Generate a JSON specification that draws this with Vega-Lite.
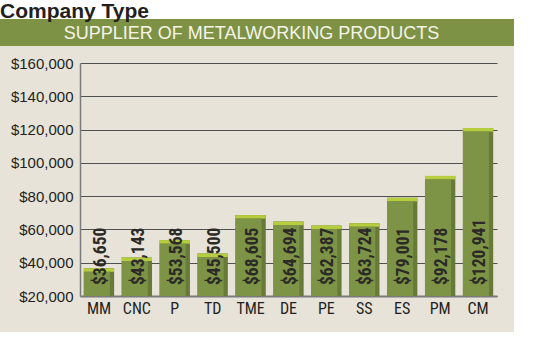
{
  "$schema": "https://vega.github.io/schema/vega-lite/v6.json",
  "width": 514,
  "height": 313,
  "autosize": {"type": "none"},
  "padding": {"left": 0, "top": 19, "right": 19, "bottom": 18},
  "background": "white",
  "config": {"view": {"stroke": null, "fill": "#e7e3d9"}},
  "title": {
    "text": "Company Type",
    "anchor": "start",
    "frame": "group",
    "baseline": "alphabetic",
    "offset": -20,
    "font": "Liberation Sans, Arial, sans-serif",
    "fontSize": 21,
    "fontWeight": "bold",
    "color": "#231f20"
  },
  "data": {
    "values": [
      {"type": "MM", "value": 36650},
      {"type": "CNC", "value": 43143},
      {"type": "P", "value": 53568},
      {"type": "TD", "value": 45500},
      {"type": "TME", "value": 68605},
      {"type": "DE", "value": 64694},
      {"type": "PE", "value": 62387},
      {"type": "SS", "value": 63724},
      {"type": "ES", "value": 79001},
      {"type": "PM", "value": 92178},
      {"type": "CM", "value": 120941}
    ]
  },
  "layer": [
    {
      "data": {"values": [{"banner": "SUPPLIER OF METALWORKING PRODUCTS"}]},
      "mark": {"type": "rect", "color": "#7e9246"},
      "encoding": {
        "y": {"datum": 170200, "type": "quantitative"},
        "y2": {"datum": 186500}
      }
    },
    {
      "data": {"values": [{"banner": "SUPPLIER OF METALWORKING PRODUCTS"}]},
      "mark": {"type": "text", "color": "#f6f4e8", "font": "Liberation Sans, Arial, sans-serif", "fontSize": 18, "baseline": "alphabetic", "align": "center", "dx": -5.5},
      "encoding": {
        "y": {"datum": 174400, "type": "quantitative"},
        "text": {"field": "banner"}
      }
    },
    {
      "encoding": {
        "x": {
          "field": "type",
          "type": "nominal",
          "sort": null,
          "scale": {"range": [80, 497], "paddingInner": 0.2, "paddingOuter": 0.1},
          "axis": {
            "title": null,
            "offset": -36,
            "ticks": false,
            "labelPadding": 4,
            "labelAngle": 0,
            "labelFont": "Roboto Condensed, Liberation Sans Narrow, DejaVu Sans Condensed, sans-serif",
            "labelFontSize": 16,
            "labelColor": "#231f20",
            "domainColor": "#7a7a7a",
            "domainWidth": 2,
            "grid": false
          }
        },
        "y": {
          "field": "value",
          "type": "quantitative",
          "scale": {"domain": [20000, 160000], "range": [277, 44], "zero": false, "nice": false},
          "axis": {
            "title": null,
            "values": [20000, 40000, 60000, 80000, 100000, 120000, 140000, 160000],
            "format": "$,.0f",
            "offset": -80,
            "ticks": false,
            "labelPadding": 7,
            "labelFont": "Liberation Sans, Arial, sans-serif",
            "labelFontSize": 15,
            "labelColor": "#231f20",
            "domainColor": "#7a7a7a",
            "domainWidth": 1.5,
            "grid": true,
            "gridColor": "#505050",
            "gridWidth": 1.2
          }
        }
      },
      "layer": [
        {
          "mark": {"type": "bar", "color": "#687a37"},
          "encoding": {"y2": {"datum": 20000}}
        },
        {
          "mark": {"type": "bar", "color": "#b6cd3e", "y2Offset": 3.5},
          "encoding": {"y2": {"field": "value"}}
        },
        {
          "mark": {"type": "bar", "color": "#7d9446", "width": {"band": 0.86}, "xOffset": -2.1, "yOffset": 3.5},
          "encoding": {"y2": {"datum": 20000}}
        },
        {
          "mark": {"type": "text", "angle": 270, "align": "left", "baseline": "middle", "font": "Roboto Condensed, Liberation Sans Narrow, DejaVu Sans Condensed, sans-serif", "fontSize": 17.5, "fontWeight": "bold", "color": "#2b2a26", "xOffset": 2, "yOffset": -11},
          "encoding": {
            "y": {"datum": 20000, "type": "quantitative"},
            "text": {"field": "value", "type": "quantitative", "format": "$,.0f"}
          }
        }
      ]
    }
  ]
}
